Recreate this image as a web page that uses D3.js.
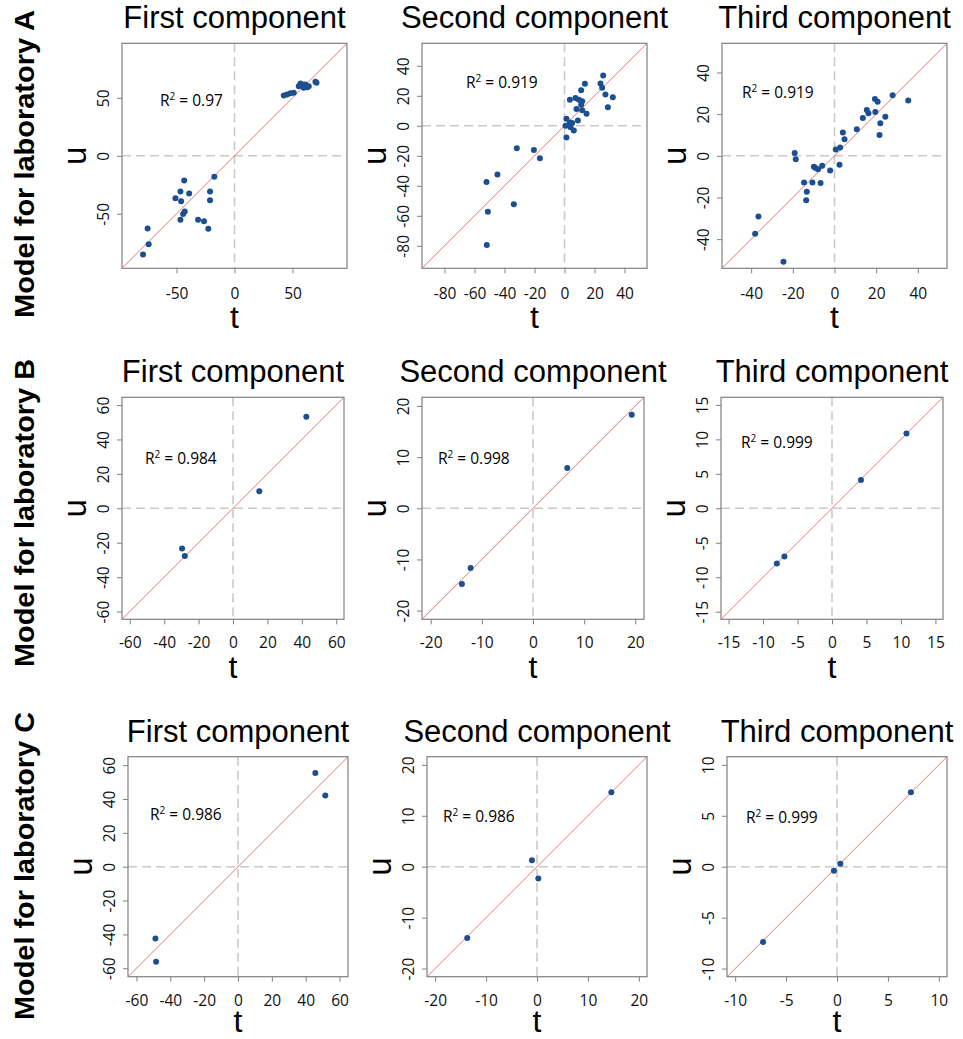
<!DOCTYPE html>
<html>
<head>
<meta charset="utf-8">
<script src="https://cdn.jsdelivr.net/npm/d3@7"></script>
<style>
  body { margin: 0; background: #fff; }
  svg { display: block; }
</style>
</head>
<body>
<div id="chart"></div>
<script>
// ---- data ----
const rowLabels = ['Model for laboratory A', 'Model for laboratory B', 'Model for laboratory C']
const componentTitles = ['First component', 'Second component', 'Third component']
const r2Values = [
    ['0.97', '0.919', '0.919'],
    ['0.984', '0.998', '0.999'],
    ['0.986', '0.986', '0.999']
]

// axis limits (symmetric on t and u) and tick values per panel
const limitsA = [[-97, 97], [-95, 55], [-54, 54]]
const limitsB = [[-64.5, 64.5], [-21.7, 21.7], [-16.1, 16.1]]
const limitsC = [[-65, 65], [-21.6, 21.6], [-10.8, 10.8]]
const ticksA = [[-50, 0, 50], [-80, -60, -40, -20, 0, 20, 40], [-40, -20, 0, 20, 40]]
const ticksB = [[-60, -40, -20, 0, 20, 40, 60], [-20, -10, 0, 10, 20], [-15, -10, -5, 0, 5, 10, 15]]
const ticksC = [[-60, -40, -20, 0, 20, 40, 60], [-20, -10, 0, 10, 20], [-10, -5, 0, 5, 10]]

// scores: t (x) and u (y)
const tA1 = [-78.9, -74.9, -74, -50.9, -46.6, -46, -43.4, -39.1, -46.6, -44.3, -42.9, -31.4, -26.3, -22.6, -21.1, -21.1, -17.4,
    42.5, 45.4, 48.3, 51.1, 55.4, 56.9, 58.4, 59.7, 60.3, 61.2, 62.7, 64, 69.8, 70.7]
const uA1 = [-85.2, -62.6, -76.2, -36.5, -30.7, -39.1, -21.4, -32.5, -55.1, -50.1, -48.1, -55.1, -56.5, -62.9, -30.7, -38.3, -18,
    51.9, 52.8, 53.9, 54.3, 60, 62.3, 61.5, 58.6, 60.6, 61.5, 59.1, 60, 63.8, 63]
const tA2 = [-52, -51.1, -51.8, -44.7, -31.8, -33.8, -20.4, -16.4, 1.3, 0.7, 3.6, 5.1, 4, 6.2, 1.3, 8.9, 8, 11.8, 14.7,
    3.6, 7.3, 9.6, 11.8, 11.1, 11.1, 13.6, 24, 25.8, 25.1, 27.3, 32.2, 28.9]
const uA2 = [-37.4, -57.3, -79.4, -32.4, -15, -52.3, -16.1, -21.7, 4.7, 0, 2.2, 1.8, -0.9, -3.1, -7.8, 3.6, 11.2, 10.3, 8.1,
    17.4, 18.6, 17.4, 16.3, 14.1, 23.7, 28, 28.2, 33.6, 25.3, 20.8, 19, 12.3]
const tA3 = [-38.1, -36.5, -24.5, -19.1, -18.6, -14.6, -13.3, -13.6, -10.6, -9.9, -9.1, -7.9, -6.7, -5.9, -2.1, 0.6, 2.4, 2.7,
    4, 4.8, 10.7, 13.6, 15.5, 16.3, 19.4, 19.6, 20.7, 22, 21.6, 24.4, 27.9, 35.4]
const uA3 = [-37.4, -29.1, -50.9, 1.4, -1.6, -12.8, -17.2, -21.3, -12.8, -5.3, -5.8, -6.4, -13, -4.8, -7.1, 3, -4.3, 4,
    11.2, 8, 12.7, 18.1, 22, 20.4, 27.3, 21, 26, 15.6, 10, 18.8, 29.1, 26.5]
const tB1 = [42.6, 15.3, -29.6, -28]
const uB1 = [53.2, 9.9, -23.4, -27.7]
const tB2 = [19.3, 6.7, -12.2, -13.9]
const uB2 = [18.3, 7.9, -11.65, -14.8]
const tB3 = [10.8, 4.2, -6.9, -8]
const uB3 = [10.85, 4.1, -7, -8]
const tC1 = [45.7, 51.6, -48.8, -48.4]
const uC1 = [55.3, 42.1, -42.5, -56.1]
const tC2 = [14.6, -1, 0.26, -13.7]
const uC2 = [14.6, 1.25, -2.3, -14]
const tC3 = [7.26, 0.33, -0.3, -7.26]
const uC3 = [7.3, 0.3, -0.4, -7.4]

const scores = [
    [[tA1, uA1], [tA2, uA2], [tA3, uA3]],
    [[tB1, uB1], [tB2, uB2], [tB3, uB3]],
    [[tC1, uC1], [tC2, uC2], [tC3, uC3]]
]
const limits = [limitsA, limitsB, limitsC]
const ticks = [ticksA, ticksB, ticksC]

// ---- layout ----
const W = 963, H = 1039
const rowTop = [43.3, 397.3, 756.7]
const rowSize = [225, 222, 220]
const colLeft = [[122, 422, 722], [122, 422, 721], [128, 427, 727]]
const r2Offset = [
    [[38, 63], [44, 45], [20, 55]],
    [[23, 67], [16, 67], [20, 51]],
    [[22, 63], [16, 65], [19, 66]]
]
const rowLabelCenter = [164, 513, 866]
const xTickPad = [15, 13, 13]
const tLabelGap = [60, 59, 55]

const svg = d3.select('#chart').append('svg').attr('width', W).attr('height', H)

rowLabels.forEach((label, r) => {
    svg.append('text')
        .attr('transform', `translate(34,${rowLabelCenter[r]}) rotate(-90)`)
        .attr('text-anchor', 'middle')
        .attr('textLength', 308)
        .attr('lengthAdjust', 'spacingAndGlyphs')
        .style('font-family', '"Liberation Sans Narrow", "Liberation Sans", Arial, sans-serif')
        .style('font-weight', 'bold')
        .style('font-size', '28px')
        .text(label)
})

for (let r = 0; r < 3; r++) {
    for (let c = 0; c < 3; c++) {
        const left = colLeft[r][c], top = rowTop[r], size = rowSize[r]
        const dom = limits[r][c]
        const x = d3.scaleLinear().domain(dom).range([left, left + size])
        const y = d3.scaleLinear().domain(dom).range([top + size, top])
        const g = svg.append('g')
        const clipId = `clip-${r}-${c}`
        g.append('clipPath').attr('id', clipId)
            .append('rect').attr('x', left).attr('y', top).attr('width', size).attr('height', size)

        // title
        g.append('text')
            .attr('x', left + size / 2).attr('y', top - 15)
            .attr('text-anchor', 'middle')
            .style('font-family', '"Liberation Sans", Arial, sans-serif')
            .style('font-size', '31px')
            .text(componentTitles[c])

        const inner = g.append('g').attr('clip-path', `url(#${clipId})`)
        // zero reference lines
        inner.append('line')
            .attr('x1', x(0)).attr('x2', x(0)).attr('y1', top).attr('y2', top + size)
            .attr('stroke', '#cacaca').attr('stroke-width', 1.6).attr('stroke-dasharray', '9,5')
        inner.append('line')
            .attr('x1', left).attr('x2', left + size).attr('y1', y(0)).attr('y2', y(0))
            .attr('stroke', '#cacaca').attr('stroke-width', 1.6).attr('stroke-dasharray', '9,5')
        // identity line u = t
        inner.append('line')
            .attr('x1', x(dom[0])).attr('y1', y(dom[0])).attr('x2', x(dom[1])).attr('y2', y(dom[1]))
            .attr('stroke', '#de7b7b').attr('stroke-width', 1)

        // points
        const [tv, uv] = scores[r][c]
        inner.selectAll('circle').data(d3.zip(tv, uv)).enter().append('circle')
            .attr('cx', d => x(d[0])).attr('cy', d => y(d[1]))
            .attr('r', 3).attr('fill', '#1b4f8f')

        // box
        g.append('rect')
            .attr('x', left).attr('y', top).attr('width', size).attr('height', size)
            .attr('fill', 'none').attr('stroke', '#808080').attr('stroke-width', 1.2)

        // axes
        const xAxis = g.append('g').attr('transform', `translate(0,${top + size})`)
            .call(d3.axisBottom(x).tickValues(ticks[r][c]).tickSize(5).tickPadding(xTickPad[r]).tickFormat(d3.format('d')))
        const yAxis = g.append('g').attr('transform', `translate(${left},0)`)
            .call(d3.axisLeft(y).tickValues(ticks[r][c]).tickSize(5).tickFormat(d3.format('d')))
        ;[xAxis, yAxis].forEach(a => {
            a.select('.domain').remove()
            a.selectAll('line').attr('stroke', '#808080')
            a.selectAll('text')
                .style('font-family', '"Open Sans", sans-serif')
                .style('font-size', '15.5px')
                .attr('fill', '#111')
        })
        xAxis.selectAll('text').text(d => d3.format('d')(d).replace('−', '-'))
        yAxis.selectAll('text')
            .text(d => d3.format('d')(d).replace('−', '-'))
            .attr('transform', 'rotate(-90)')
            .attr('x', 0).attr('y', -13).attr('dy', 0)
            .attr('text-anchor', 'middle')

        // axis titles
        g.append('text')
            .attr('x', left + size / 2).attr('y', top + size + tLabelGap[r])
            .attr('text-anchor', 'middle')
            .style('font-family', '"Liberation Sans", Arial, sans-serif')
            .style('font-size', '32px')
            .text('t')
        g.append('text')
            .attr('transform', `translate(${left - 36},${top + size / 2}) rotate(-90)`)
            .attr('text-anchor', 'middle')
            .style('font-family', '"Liberation Sans", Arial, sans-serif')
            .style('font-size', '33px')
            .text('u')

        // R² annotation
        const [ox, oy] = r2Offset[r][c]
        const lbl = g.append('text')
            .attr('x', left + ox).attr('y', top + oy)
            .style('font-family', '"Open Sans", sans-serif')
            .style('font-size', '15.5px')
        lbl.append('tspan').text('R')
        lbl.append('tspan').attr('dy', -6).style('font-size', '10px').text('2')
        lbl.append('tspan').attr('dy', 6).text(' = ' + r2Values[r][c])
    }
}
</script>
</body>
</html>
